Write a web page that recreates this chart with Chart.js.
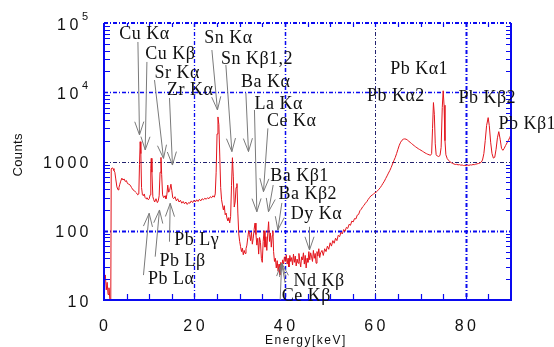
<!DOCTYPE html>
<html><head><meta charset="utf-8">
<script src="https://cdn.jsdelivr.net/npm/chart.js@4.4.1/dist/chart.umd.min.js"></script>
<style>html,body{margin:0;padding:0;background:#fff;}canvas{display:block;}</style>
</head><body>
<canvas id="c" width="554" height="347"></canvas>
<script>
// ---------- data ----------
const energyKeV = [
0.1,0.3,0.5,0.7,0.9,1.1,1.3,1.5,1.6,1.8,2.0,2.2,2.4,2.6,2.85,3.1,3.3,3.5,3.7,3.95,4.2,4.45,4.7,4.95,5.2,5.5,5.8,6.1,6.4,6.7,7.0,7.2,7.45,7.7,7.85,8.0,8.15,8.3,8.5,8.7,8.9,9.1,9.3,9.5,9.8,10.0,10.2,10.35,10.45,10.6,10.8,11.0,11.2,11.5,11.8,12.0,12.2,12.4,12.6,12.75,12.95,13.2,13.5,13.7,13.9,14.1,14.3,14.5,14.8,15.0,15.2,15.4,15.7,16.0,16.3,16.6,16.9,17.2,17.5,17.8,18.1,18.4,18.7,19.0,19.3,19.6,19.9,20.2,20.5,20.8,21.1,21.4,21.7,22.0,22.3,22.6,22.9,23.2,23.5,23.8,24.1,24.4,24.6,24.8,25.0,25.2,25.4,25.6,25.8,26.0,26.2,26.4,26.6,26.8,27.0,27.2,27.4,27.6,27.8,28.0,28.2,28.4,28.6,28.8,29.0,29.2,29.4,29.6,29.8,30.0,30.2,30.4,30.6,30.8,31.0,31.2,31.4,31.6,31.8,32.0,32.2,32.4,32.6,32.8,33.0,33.2,33.4,33.6,33.8,34.0,34.2,34.4,34.6,34.8,35.0,35.2,35.4,35.6,35.8,36.0,36.2,36.4,36.6,36.8,37.0,37.2,37.35,37.5,37.7,37.9,38.1,38.3,38.5,38.7,38.9,39.1,39.3,39.5,39.7,39.9,40.1,40.3,40.5,40.7,40.9,41.1,41.3,41.5,41.7,41.9,42.1,42.3,42.5,42.7,42.9,43.1,43.3,43.5,43.7,43.9,44.1,44.3,44.5,44.7,44.9,45.1,45.3,45.5,45.7,45.9,46.1,46.3,46.5,46.7,46.9,47.1,47.3,47.5,47.7,47.9,48.2,48.5,48.8,49.1,49.4,49.7,50.0,50.3,50.6,50.9,51.2,51.5,51.8,52.1,52.4,52.7,53.0,53.3,53.6,53.9,54.2,54.5,54.8,55.1,55.4,55.7,56.0,56.3,56.6,56.9,57.2,57.5,57.8,58.1,58.4,58.7,59.0,59.3,59.6,59.9,60.2,60.5,60.8,61.1,61.4,61.7,62.0,62.3,62.6,62.9,63.2,63.5,63.8,64.1,64.4,64.7,65.0,65.3,65.6,65.9,66.2,66.5,66.8,67.1,67.4,67.7,68.0,68.3,68.6,68.9,69.2,69.5,69.8,70.1,70.4,70.7,71.0,71.3,71.6,71.9,72.2,72.45,72.65,72.85,73.05,73.25,73.45,73.7,74.0,74.3,74.55,74.8,75.0,75.2,75.4,75.6,75.9,76.2,76.5,76.8,77.1,77.4,77.7,78.0,78.3,78.6,78.9,79.2,79.5,79.8,80.1,80.4,80.7,81.0,81.3,81.6,81.9,82.2,82.5,82.8,83.1,83.4,83.7,84.0,84.3,84.6,84.95,85.2,85.5,85.8,86.1,86.4,86.7,87.0,87.3,87.6,87.9,88.2,88.5,88.8,89.1,89.4,89.7,90.0
];
const counts = [
20,23,14,18,12,15,10,10,780,810,790,740,700,560,430,390,420,470,520,575,540,560,515,530,480,470,455,420,390,380,360,350,330,340,900,1930,1300,420,330,320,340,300,290,300,280,290,330,800,1110,700,310,280,260,290,255,270,320,700,1145,650,330,300,320,290,330,456,360,380,470,380,300,290,310,270,290,260,275,250,265,245,260,240,255,250,270,255,275,260,280,265,285,270,290,280,295,285,300,290,310,300,320,305,340,700,2500,4400,3400,1200,420,280,235,200,230,170,180,150,140,155,130,160,450,1135,600,220,260,420,480,180,90,70,59,50,56,45,52,47,55,62,80,100,88,72,95,64,78,105,129,88,62,78,46,80,68,40,35,70,100,58,82,52,90,135,70,93,58,85,100,50,36,40,29,37,26,33,23,35,27,38,33,42,36,45,33,40,30,44,36,41,32,46,35,43,31,39,34,47,36,30,42,38,48,33,44,29,40,35,50,38,48,42,36,52,40,47,34,50,43,55,41,48,52,44,55,50,60,54,67,60,72,66,78,72,86,82,95,90,104,98,112,108,124,120,138,134,150,148,168,172,195,205,222,232,250,262,282,300,318,328,340,352,362,378,398,420,450,485,520,570,620,680,740,820,920,1030,1140,1300,1500,1720,1900,2030,2100,2120,2100,2040,1960,1890,1820,1750,1690,1630,1580,1530,1490,1450,1410,1370,1330,1300,1270,1250,1230,1300,3000,7100,4800,1800,1250,1200,1180,1220,1600,6000,10500,6500,2000,1250,1100,1040,990,960,940,920,905,910,895,900,885,890,875,880,870,885,880,895,890,905,900,915,925,935,950,975,1050,1300,2000,3300,4300,3300,1900,1300,1120,1150,1500,2200,2700,2100,1550,1450,1550,1700,1850,2000,2200,2450
];
const xTickValues = [0,20,40,60,80];
const xTickLabels = ['0','20','40','60','80'];
const yTickValues = [10,100,1000,10000,100000];
const yTickBase = ['10','100','1000','10','10'];
const yTickExp = ['','','','4','5'];
const xTitle = 'Energy[keV]';
const yTitle = 'Counts';
const peakNames = ['Cu Kα','Cu Kβ','Sr Kα','Zr Kα','Sn Kα','Sn Kβ1,2','Ba Kα','La Kα','Ce Kα','Pb Kα1','Pb Kα2','Pb Kβ2','Pb Kβ1','Ba Kβ1','Ba Kβ2','Dy Kα','Pb Lγ','Pb Lβ','Pb Lα','Nd Kβ','Ce Kβ'];

// ---------- layout (data coordinates: [keV, counts]) ----------
const labelAnchor = {
 'Cu Kα':[3.36,57800],'Cu Kβ':[9.11,29900],'Sr Kα':[11.17,16300],'Zr Kα':[13.91,9120],
 'Sn Kα':[22.15,52200],'Sn Kβ1,2':[25.85,25600],'Ba Kα':[30.27,12100],'La Kα':[33.27,5730],
 'Ce Kα':[36.02,3260],'Pb Kα1':[63.28,18400],'Pb Kα2':[58.13,7480],'Pb Kβ2':[78.38,7000],
 'Pb Kβ1':[87.22,2950],'Ba Kβ1':[36.75,522],'Ba Kβ2':[38.58,292],'Dy Kα':[41.32,148],
 'Pb Lγ':[15.52,62.2],'Pb Lβ':[12.27,31.0],'Pb Lα':[9.71,17.0],'Nd Kβ':[41.9,15.9],'Ce Kβ':[39.33,9.68]
};
const arrowPath = {
 'Cu Kα':[[7.50,53200],[7.85,2420]],'Cu Kβ':[[9.49,27400],[9.11,1470]],
 'Sr Kα':[[11.17,15000],[13.16,1110]],'Zr Kα':[[14.48,8260],[15.14,889]],
 'Sn Kα':[[23.86,40700],[25.09,5550]],'Sn Kβ1,2':[[26.95,24800],[28.28,1390]],
 'Ba Kα':[[31.37,9750],[31.95,1390]],'La Kα':[[33.27,5550],[33.80,188]],
 'Ce Kα':[[36.24,3010],[35.26,366]],'Ba Kβ1':[[37.41,458],[36.37,188]],
 'Ba Kβ2':[[39.33,252],[38.45,102.6]],'Dy Kα':[[45.44,114],[45.44,52.7]],
 'Pb Lγ':[[14.48,69.5],[14.64,249]],'Pb Lβ':[[11.32,42.2],[12.27,199.5]],
 'Pb Lα':[[8.73,22.9],[9.99,178.6]],'Nd Kβ':[[40.06,17.6],[39.29,34.2]],
 'Ce Kβ':[[38.96,10],[39.29,34.2]]
};
const BLUE = '#0a0af0';
const DARK = '#22226e';

function spaced(ctx, text, x, y, sp, align){
  const ch = [...text];
  const ws = ch.map(c => ctx.measureText(c).width);
  const total = ws.reduce((a,b)=>a+b,0) + sp*(ch.length-1);
  let cx = align==='right' ? x-total : align==='center' ? x-total/2 : x;
  ctx.textAlign='left';
  ch.forEach((c,i)=>{ ctx.fillText(c,cx,y); cx += ws[i]+sp; });
  return total;
}

const overlay = {
  id:'overlay',
  beforeDatasetsDraw(chart){
    const ctx=chart.ctx, a=chart.chartArea, xs=chart.scales.x, ys=chart.scales.y;
    ctx.save();
    const hg = [[10000,1.3,BLUE],[1000,1,DARK],[100,2,BLUE]];
    hg.forEach(([v,w,col])=>{
      const y=Math.round(ys.getPixelForValue(v))+0.5;
      ctx.strokeStyle=col; ctx.lineWidth=w; ctx.setLineDash([4,2,1,2]);
      ctx.beginPath(); ctx.moveTo(a.left,y); ctx.lineTo(a.right,y); ctx.stroke();
    });
    const vg = [[20,1.3,BLUE],[40,1.5,BLUE],[60,1,DARK],[80,2,BLUE]];
    vg.forEach(([v,w,col])=>{
      const x=Math.round(xs.getPixelForValue(v))+0.5;
      ctx.strokeStyle=col; ctx.lineWidth=w; ctx.setLineDash([4,2,1,2]);
      ctx.beginPath(); ctx.moveTo(x,a.top); ctx.lineTo(x,a.bottom); ctx.stroke();
    });
    ctx.restore();
  },
  afterDatasetsDraw(chart){
    const ctx=chart.ctx, a=chart.chartArea, xs=chart.scales.x, ys=chart.scales.y;
    ctx.save();
    // frame
    ctx.strokeStyle=BLUE; ctx.lineWidth=2; ctx.setLineDash([]);
    ctx.beginPath();
    ctx.moveTo(a.left,a.top); ctx.lineTo(a.left,a.bottom); ctx.lineTo(a.right,a.bottom); ctx.lineTo(a.right,a.top);
    ctx.stroke();
    ctx.setLineDash([4,2,1,2]);
    ctx.beginPath(); ctx.moveTo(a.left,a.top); ctx.lineTo(a.right,a.top); ctx.stroke();
    ctx.setLineDash([]);
    // minor ticks y
    ctx.lineWidth=1.2;
    [10,100,1000,10000].forEach(d=>{
      for(let k=2;k<=9;k++){
        const y=Math.round(ys.getPixelForValue(d*k))+0.5;
        ctx.beginPath(); ctx.moveTo(a.left,y); ctx.lineTo(a.left+6,y);
        ctx.moveTo(a.right,y); ctx.lineTo(a.right-5,y); ctx.stroke();
      }
    });
    // x ticks
    for(let e=5;e<90;e+=5){
      const x=Math.round(xs.getPixelForValue(e))+0.5;
      ctx.beginPath(); ctx.moveTo(x,a.bottom); ctx.lineTo(x,a.bottom-6);
      ctx.moveTo(x,a.top); ctx.lineTo(x,a.top+4); ctx.stroke();
    }
    // tick labels
    ctx.fillStyle='#111';
    ctx.textBaseline='alphabetic';
    ctx.font='16px "Liberation Sans", Arial, sans-serif';
    xTickValues.forEach((v,i)=>{
      spaced(ctx, xTickLabels[i], xs.getPixelForValue(v)-0.5, a.bottom+31, 3.5, 'center');
    });
    yTickValues.forEach((v,i)=>{
      const y=ys.getPixelForValue(v);
      ctx.font='16px "Liberation Sans", Arial, sans-serif';
      if(yTickExp[i]){
        spaced(ctx, yTickBase[i], 78.3, y+7, 3.6, 'right');
        ctx.font='11px "Liberation Sans", Arial, sans-serif';
        ctx.fillText(yTickExp[i], 82, y-3);
      } else {
        spaced(ctx, yTickBase[i], 88.5, y+6.5, 3.3, 'right');
      }
    });
    // axis titles
    ctx.font='12px "Liberation Sans", Arial, sans-serif';
    spaced(ctx, xTitle, 265, 344, 1.5, 'left');
    ctx.save();
    ctx.translate(22, 155); ctx.rotate(-Math.PI/2);
    ctx.font='13px "Liberation Sans", Arial, sans-serif';
    spaced(ctx, yTitle, 0, 0, 0.4, 'center');
    ctx.restore();
    // arrows
    ctx.strokeStyle='#7a7a7a'; ctx.lineWidth=1;
    Object.keys(arrowPath).forEach(k=>{
      const [p,q]=arrowPath[k];
      const x1=xs.getPixelForValue(p[0]), y1=ys.getPixelForValue(p[1]);
      const x2=xs.getPixelForValue(q[0]), y2=ys.getPixelForValue(q[1]);
      const ang=Math.atan2(y2-y1,x2-x1), L=14, h=0.33;
      ctx.beginPath(); ctx.moveTo(x1,y1); ctx.lineTo(x2,y2);
      ctx.moveTo(x2-L*Math.cos(ang-h), y2-L*Math.sin(ang-h)); ctx.lineTo(x2,y2);
      ctx.lineTo(x2-L*Math.cos(ang+h), y2-L*Math.sin(ang+h));
      ctx.stroke();
    });
    // peak labels
    ctx.fillStyle='#111';
    ctx.font='18px "Liberation Serif", "Times New Roman", serif';
    peakNames.forEach(n=>{
      const [e,c]=labelAnchor[n];
      spaced(ctx, n, xs.getPixelForValue(e), ys.getPixelForValue(c), 0.5, 'left');
    });
    ctx.restore();
  }
};

new Chart(document.getElementById('c'), {
  type:'line',
  data:{datasets:[{
    data: energyKeV.map((e,i)=>({x:e,y:counts[i]})),
    borderColor:'#e3141c', borderWidth:1, pointRadius:0, tension:0, fill:false
  }]},
  options:{
    responsive:false, animation:false, devicePixelRatio:1,
    layout:{padding:{left:104,right:43,top:23,bottom:47}},
    plugins:{legend:{display:false},tooltip:{enabled:false}},
    scales:{
      x:{type:'linear',min:0,max:90,display:false},
      y:{type:'logarithmic',min:10,max:100000,display:false}
    }
  },
  plugins:[overlay]
});
</script>
</body></html>
